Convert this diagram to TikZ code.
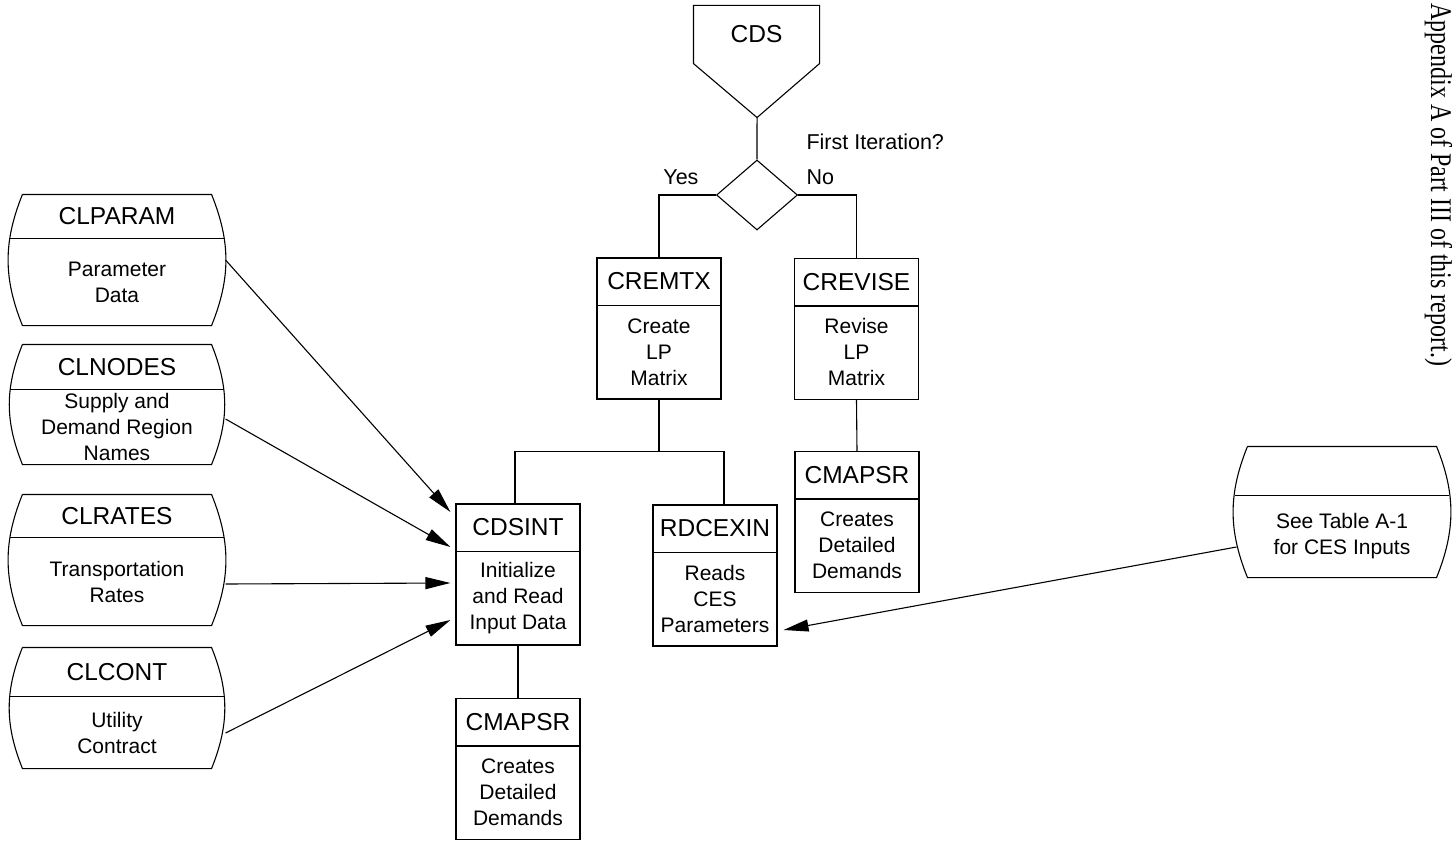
\documentclass[tikz,border=0pt]{standalone}
\usepackage{fontspec}
\setmainfont{Liberation Sans}
\newfontfamily\notefont{Liberation Serif}
\usetikzlibrary{shapes.geometric,arrows.meta,calc}

\tikzset{
  procbox/.style={draw, minimum width=124pt, minimum height=141pt, inner sep=0pt},
  store/.style={minimum width=216pt, inner sep=0pt},
  titletext/.style={font=\fontsize{24.5}{29}\selectfont, inner sep=0pt},
  bodytext/.style={font=\fontsize{21}{26}\selectfont, align=center, inner sep=0pt},
  labeltext/.style={font=\fontsize{21.5}{25}\selectfont, inner sep=0pt},
  flow/.style={-{Triangle[length=25pt,width=12pt]}},
}

\begin{document}
\begin{tikzpicture}[x=1pt, y=-1pt, line width=1.1pt]
  \useasboundingbox (0,0) rectangle (1452,843);

  % start block
  \node[titletext, minimum width=125pt, minimum height=57pt] (cds) at (756.5,34.5) {CDS};
  \draw (cds.north west) -- (cds.north east) -- (cds.south east)
    -- ++(-62.5,54) coordinate (cdstip) -- (cds.south west) -- cycle;

  % decision
  \node[diamond, draw, minimum width=81pt, minimum height=70pt, inner sep=0pt] (iter) at (757,195) {};
  \node[labeltext, anchor=west] (iterq) at (806,142) {First Iteration?};
  \node[labeltext, anchor=east] (yes) at (699,177) {Yes};
  \node[labeltext, anchor=west] (no) at (806,177) {No};

  % process boxes
  \node[procbox] (cremtx) at (659,328.5) {};
  \node[procbox] (crevise) at (856.5,329) {};
  \node[procbox] (cmapsrb) at (857,522) {};
  \node[procbox] (cdsint) at (518,574.5) {};
  \node[procbox] (rdcexin) at (715,575.5) {};
  \node[procbox] (cmapsra) at (518,769) {};

  \foreach \nm/\ttl/\bdy in {cremtx/CREMTX/{Create\\LP\\Matrix},
      crevise/CREVISE/{Revise\\LP\\Matrix},
      cmapsrb/CMAPSR/{Creates\\Detailed\\Demands},
      cdsint/CDSINT/{Initialize\\and Read\\Input Data},
      rdcexin/RDCEXIN/{Reads\\CES\\Parameters},
      cmapsra/CMAPSR/{Creates\\Detailed\\Demands}} {
    \draw ([yshift=-48pt]\nm.north west) -- ([yshift=-48pt]\nm.north east);
    \node[titletext] (\nm-t) at ([yshift=-24pt]\nm.north) {\ttl};
    \node[bodytext] (\nm-b) at ([yshift=-94.5pt]\nm.north) {\bdy};
  }

  % data stores
  \node[store, minimum height=130pt] (clparam) at (117,260) {};
  \node[store, minimum height=119pt] (clnodes) at (117,404.5) {};
  \node[store, minimum height=130pt] (clrates) at (117,560) {};
  \node[store, minimum height=120pt] (clcont) at (117,708) {};
  \node[store, minimum height=130pt] (cesdata) at (1342,512) {};

  \foreach \nm/\dv/\ttl/\bdy in {clparam/44/CLPARAM/{Parameter\\Data},
      clnodes/45/CLNODES/{Supply and\\Demand Region\\Names},
      clrates/43/CLRATES/{Transportation\\Rates},
      clcont/49/CLCONT/{Utility\\Contract},
      cesdata/49//{See Table A-1\\for CES Inputs}} {
    \draw ([xshift=14pt]\nm.north west) -- ([xshift=-14pt]\nm.north east)
      to[bend left=22] ([xshift=-14pt]\nm.south east)
      -- ([xshift=14pt]\nm.south west)
      to[bend left=22] ([xshift=14pt]\nm.north west);
    \draw ([shift={(2pt,-\dv pt)}]\nm.north west) -- ([shift={(-2pt,-\dv pt)}]\nm.north east);
    \node[titletext] (\nm-t) at ([yshift=-\dv pt/2]\nm.north) {\ttl};
    \node[bodytext] (\nm-b) at ($(\nm.south)!.5!([yshift=-\dv pt]\nm.north)$) {\bdy};
  }

  % connectors
  \draw (cdstip) -- (iter.north);
  \draw (iter.west) -| (cremtx.north);
  \draw (iter.east) -| (crevise.north);
  \draw (cremtx.south) -- ++(0,52) coordinate (split);
  \draw (split) -| ([xshift=-3pt]cdsint.north);
  \draw (split) -| ([xshift=9pt]rdcexin.north);
  \draw (crevise.south) -- (cmapsrb.north);
  \draw (cdsint.south) -- (cmapsra.north);

  % input arrows
  \draw[flow] (clparam.east) -- ([shift={(-5pt,62.5pt)}]cdsint.west);
  \draw[flow] ([yshift=-14.5pt]clnodes.east) -- ([shift={(-5pt,27.5pt)}]cdsint.west);
  \draw[flow] ([yshift=-24pt]clrates.east) -- ([shift={(-5pt,-8.5pt)}]cdsint.west);
  \draw[flow] ([yshift=-25pt]clcont.east) -- ([shift={(-5pt,-45.5pt)}]cdsint.west);
  \draw[flow] ([shift={(3pt,-35pt)}]cesdata.west) -- ([shift={(6pt,-54.5pt)}]rdcexin.east);

  % side note
  \node[rotate=-90, anchor=base west, inner sep=0pt, font=\notefont\fontsize{30}{34}\selectfont] (appnote)
    at (1431,3) {\scalebox{0.8}[1]{Appendix A of Part III of this report.)}};
\end{tikzpicture}
\end{document}
